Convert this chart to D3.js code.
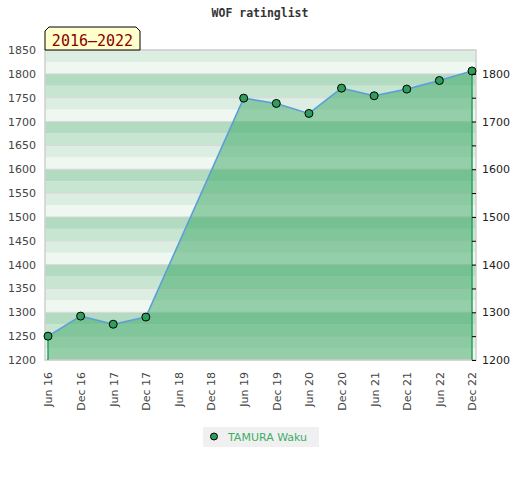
<!DOCTYPE html>
<html>
<head>
<meta charset="utf-8">
<script src="https://cdn.jsdelivr.net/npm/d3@7"></script>
<style>
  body { margin: 0; background: #fff; }
  svg { display: block; }
</style>
</head>
<body>
<div id="chart"></div>
<script>
// values
const periods = ["Jun 16", "Dec 16", "Jun 17", "Dec 17", "Jun 18", "Dec 18", "Jun 19",
                 "Dec 19", "Jun 20", "Dec 20", "Jun 21", "Dec 21", "Jun 22", "Dec 22"];
const ratings = [1250, 1292, 1275, 1290, null, null, 1749, 1738, 1717, 1770, 1754, 1768, 1786, 1806];
const leftTicks = d3.range(1200, 1851, 50);
const rightTicks = d3.range(1200, 1801, 50);
const player = "TAMURA Waku";
const title = "WOF ratinglist";
const span = "2016\u20132022";

const W = 520, H = 480;
const plot = {left: 45, right: 476, top: 50, bottom: 360};

const svg = d3.select("#chart").append("svg")
    .attr("width", W)
    .attr("height", H);

const x = d3.scalePoint()
    .domain(periods)
    .range([48, 472]);

const y = d3.scaleLinear()
    .domain([1200, 1850])
    .range([plot.bottom, plot.top]);

// striped background, 4 shades per 100 points
const shades = ["#eff7f1", "#dcede2", "#c8e5d2", "#b3dbc1"];
const bands = d3.range(1200, 1850, 25);
svg.append("g")
    .selectAll("rect")
    .data(bands).enter()
    .append("rect")
    .attr("x", plot.left)
    .attr("width", plot.right - plot.left)
    .attr("y", d => y(d + 25))
    .attr("height", d => y(d) - y(d + 25))
    .attr("fill", d => shades[(d % 100) / 25]);

// gridlines
svg.append("g")
    .selectAll("line")
    .data(leftTicks).enter()
    .append("line")
    .attr("x1", plot.left).attr("x2", plot.right)
    .attr("y1", d => y(d)).attr("y2", d => y(d))
    .attr("stroke", "#d8d8d8")
    .attr("stroke-width", 1);

const pts = periods.map((p, i) => ({p: p, v: ratings[i]})).filter(d => d.v != null);

const area = d3.area()
    .x(d => x(d.p))
    .y0(y(1200))
    .y1(d => y(d.v));

svg.append("path")
    .attr("d", area(pts))
    .attr("fill", "#3aa863")
    .attr("fill-opacity", 0.5);

// frame
svg.append("rect")
    .attr("x", plot.left).attr("y", plot.top)
    .attr("width", plot.right - plot.left)
    .attr("height", plot.bottom - plot.top)
    .attr("fill", "none")
    .attr("stroke", "#d0d0d0")
    .attr("stroke-width", 1.5);

// drop lines at both ends
const ends = [pts[0], pts[pts.length - 1]];
svg.append("g")
    .selectAll("line")
    .data(ends).enter()
    .append("line")
    .attr("x1", d => x(d.p)).attr("x2", d => x(d.p))
    .attr("y1", d => y(d.v)).attr("y2", y(1200))
    .attr("stroke", "#2ea05a")
    .attr("stroke-width", 1.5);

const line = d3.line()
    .x(d => x(d.p))
    .y(d => y(d.v));

svg.append("path")
    .attr("d", line(pts))
    .attr("fill", "none")
    .attr("stroke", "#5b9fd8")
    .attr("stroke-width", 1.6);

svg.append("g")
    .selectAll("circle")
    .data(pts).enter()
    .append("circle")
    .attr("cx", d => x(d.p))
    .attr("cy", d => y(d.v))
    .attr("r", 4)
    .attr("fill", "#2e9e5b")
    .attr("stroke", "#000")
    .attr("stroke-width", 1);

/* Axes */
const yLeft = d3.axisLeft(y).tickValues(leftTicks).tickSize(0).tickPadding(9)
    .tickFormat(d3.format("d"));
svg.append("g")
    .attr("transform", `translate(${plot.left},0)`)
    .call(yLeft)
    .call(g => g.select(".domain").remove())
    .selectAll("text")
    .attr("font-family", "DejaVu Sans")
    .attr("font-size", 11)
    .attr("fill", "#444");

const yRight = d3.axisRight(y).tickValues(rightTicks).tickSize(-4).tickPadding(6)
    .tickFormat(d => d % 100 === 0 ? d : "");
const gr = svg.append("g")
    .attr("transform", `translate(${plot.right},0)`)
    .call(yRight)
    .call(g => g.select(".domain").remove());
gr.selectAll("line").attr("stroke", "#000");
gr.selectAll("text")
    .attr("font-family", "DejaVu Sans")
    .attr("font-size", 11)
    .attr("fill", "#222");

const xAxis = d3.axisBottom(x).tickSize(0);
svg.append("g")
    .attr("transform", `translate(0,${plot.bottom})`)
    .call(xAxis)
    .call(g => g.select(".domain").remove())
    .selectAll("text")
    .attr("transform", "rotate(-90)")
    .attr("text-anchor", "end")
    .attr("x", -12)
    .attr("y", 0)
    .attr("dy", "0.35em")
    .attr("font-family", "DejaVu Sans")
    .attr("font-size", 11)
    .attr("fill", "#444");

// title
svg.append("text")
    .attr("x", 260)
    .attr("y", 17)
    .attr("text-anchor", "middle")
    .attr("font-family", "DejaVu Sans Mono")
    .attr("font-weight", "bold")
    .attr("font-size", 11.5)
    .attr("fill", "#333")
    .text(title);

// period badge
svg.append("path")
    .attr("d", "M45,50 L45,31 L49,27 L136,27 L140,31 L140,50 Z")
    .attr("fill", "#ffffcc")
    .attr("stroke", "#000")
    .attr("stroke-width", 1);
svg.append("text")
    .attr("x", 92.5)
    .attr("y", 46)
    .attr("text-anchor", "middle")
    .attr("font-family", "DejaVu Sans Mono")
    .attr("font-size", 15)
    .attr("fill", "#8b0000")
    .text(span);

// legend
const lg = svg.append("g").attr("transform", "translate(203,427)");
lg.append("rect")
    .attr("width", 116)
    .attr("height", 20)
    .attr("fill", "#f0f0f0");
lg.append("circle")
    .attr("cx", 11).attr("cy", 9.5).attr("r", 3.5)
    .attr("fill", "#2e9e5b")
    .attr("stroke", "#000");
lg.append("text")
    .attr("x", 25).attr("y", 14)
    .attr("font-family", "DejaVu Sans")
    .attr("font-size", 11)
    .attr("fill", "#3cae6a")
    .text(player);
</script>
</body>
</html>
